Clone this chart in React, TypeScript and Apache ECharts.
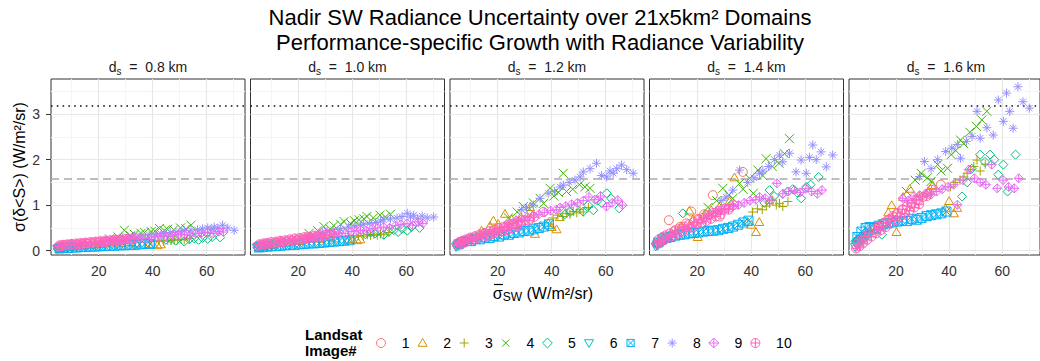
import React, { useEffect, useRef } from 'react';
import * as echarts from 'echarts';

const FONT = '"Liberation Sans", Arial, Helvetica, sans-serif';

const PANEL_LABELS = ['0.8', '1.0', '1.2', '1.4', '1.6'];
const IMAGE_NAMES = ['1', '2', '3', '4', '5', '6', '7', '8', '9', '10'];
const COLORS = ['#F8766D', '#D89000', '#A3A500', '#39B600', '#00BF7D', '#00BFC4', '#00B0F6', '#9590FF', '#E76BF3', '#FF62BC'];
const X_TICKS = [20, 40, 60];
const X_MINOR = [10, 30, 50, 70];
const Y_TICKS = [0, 1, 2, 3];
const Y_MINOR = [0.5, 1.5, 2.5, 3.5];
const DASHED_LEVEL = 1.59;
const DOTTED_LEVEL = 3.18;

// Each image: x (radiance variability) and y per panel (0.8, 1.0, 1.2, 1.4, 1.6 km)
const img1X = [7.2, 9.5, 11.8, 13.6, 15.9, 17.8, 20.3, 22.6, 25.8, 28.3, 32.0, 36.9];
const img1Y = [
  [0.10, 0.12, 0.13, 0.14, 0.15, 0.16, 0.18, 0.19, 0.20, 0.22, 0.24, 0.27],
  [0.12, 0.15, 0.17, 0.19, 0.20, 0.22, 0.24, 0.26, 0.29, 0.30, 0.34, 0.40],
  [0.20, 0.26, 0.30, 0.33, 0.36, 0.40, 0.45, 0.50, 0.58, 0.60, 0.70, 0.85],
  [0.30, 0.67, 0.45, 0.52, 0.60, 0.86, 0.70, 0.80, 1.22, 0.75, 0.95, 1.73],
  [0.25, 0.40, 0.48, 0.55, 0.62, 0.70, 0.80, 0.90, 1.02, 1.10, 1.25, 1.45],
];
const img2X = [10.5, 14.0, 17.1, 18.4, 20.2, 22.7, 25.2, 28.5, 32.0, 33.8, 38.7, 40.0, 41.8, 43.0];
const img2Y = [
  [0.10, 0.12, 0.14, 0.16, 0.15, 0.18, 0.19, 0.18, 0.20, 0.17, 0.15, 0.16, 0.13, 0.15],
  [0.14, 0.18, 0.21, 0.23, 0.22, 0.26, 0.28, 0.27, 0.30, 0.28, 0.25, 0.27, 0.24, 0.26],
  [0.30, 0.45, 0.55, 0.67, 0.60, 0.82, 0.70, 0.75, 0.97, 0.38, 0.62, 0.53, 0.48, 0.75],
  [0.40, 0.55, 0.89, 0.70, 0.31, 0.80, 0.90, 1.00, 1.10, 1.62, 0.64, 0.58, 0.42, 0.64],
  [0.45, 0.60, 0.85, 1.01, 0.42, 1.19, 1.37, 1.20, 1.30, 1.45, 0.94, 1.10, 0.83, 0.95],
];
const img3X = [40.5, 42.3, 44.1, 45.6, 46.8, 48.0, 49.3, 50.5, 51.7, 53.6];
const img3Y = [
  [0.20, 0.22, 0.21, 0.23, 0.22, 0.24, 0.23, 0.25, 0.24, 0.27],
  [0.30, 0.33, 0.32, 0.35, 0.33, 0.36, 0.34, 0.37, 0.35, 0.40],
  [0.72, 0.78, 0.75, 0.82, 0.80, 0.86, 0.83, 0.90, 0.85, 0.95],
  [0.85, 0.92, 0.90, 0.98, 1.04, 1.11, 1.00, 1.04, 0.97, 1.08],
  [1.40, 1.50, 1.55, 1.62, 1.70, 1.78, 1.85, 1.99, 1.75, 1.90],
];
const img4X = [24.0, 27.2, 29.5, 31.8, 33.2, 35.7, 37.0, 39.4, 40.8, 42.5, 44.3, 45.5, 47.8, 50.3, 52.3, 54.2];
const img4Y = [
  [0.26, 0.30, 0.45, 0.33, 0.36, 0.38, 0.40, 0.42, 0.43, 0.49, 0.44, 0.47, 0.46, 0.50, 0.48, 0.56],
  [0.38, 0.44, 0.53, 0.48, 0.55, 0.58, 0.64, 0.60, 0.66, 0.68, 0.70, 0.75, 0.72, 0.78, 0.74, 0.80],
  [0.72, 0.85, 0.97, 0.92, 1.05, 1.15, 1.04, 1.37, 1.20, 1.28, 1.70, 1.30, 1.35, 1.45, 1.40, 1.37],
  [0.95, 1.10, 1.37, 1.22, 1.15, 1.48, 1.35, 1.59, 1.26, 1.77, 1.65, 2.02, 1.85, 1.92, 2.13, 2.46],
  [1.30, 1.55, 1.70, 1.60, 1.52, 1.89, 1.75, 1.81, 2.11, 2.20, 2.43, 2.35, 2.60, 2.73, 2.87, 3.06],
];
const img5X = [4.8, 5.5, 6.5, 8.0, 10.0, 14.7, 44.9, 46.8, 48.5, 51.7, 53.5, 55.4, 57.0, 58.5, 60.4, 62.0, 65.0];
const img5Y = [
  [0.04, 0.06, 0.05, 0.08, 0.09, 0.12, 0.24, 0.26, 0.22, 0.20, 0.25, 0.27, 0.24, 0.28, 0.26, 0.30, 0.29],
  [0.07, 0.09, 0.08, 0.11, 0.13, 0.17, 0.36, 0.40, 0.38, 0.35, 0.42, 0.45, 0.41, 0.48, 0.44, 0.52, 0.50],
  [0.16, 0.14, 0.17, 0.22, 0.26, 0.38, 0.80, 0.85, 0.95, 0.86, 1.00, 0.89, 1.10, 1.05, 1.26, 1.15, 0.93],
  [0.16, 0.20, 0.22, 0.28, 0.35, 0.82, 1.05, 1.33, 1.20, 1.25, 1.30, 1.35, 1.28, 1.15, 1.40, 1.45, 1.62],
  [0.20, 0.25, 0.28, 0.33, 0.40, 0.35, 1.19, 1.50, 1.80, 2.11, 1.95, 2.11, 2.00, 1.67, 1.89, 1.30, 2.11],
];
const img6X = [4.6, 5.0, 5.4, 5.9, 6.3, 6.8, 7.4, 8.1, 9.0, 10.2];
const img6Y = [
  [0.03, 0.05, 0.04, 0.06, 0.05, 0.07, 0.06, 0.07, 0.08, 0.09],
  [0.06, 0.08, 0.07, 0.09, 0.08, 0.10, 0.09, 0.11, 0.12, 0.13],
  [0.07, 0.11, 0.09, 0.14, 0.12, 0.16, 0.14, 0.18, 0.20, 0.23],
  [0.08, 0.13, 0.10, 0.17, 0.14, 0.20, 0.18, 0.22, 0.25, 0.30],
  [0.07, 0.14, 0.10, 0.19, 0.15, 0.22, 0.20, 0.26, 0.30, 0.36],
];
const img7X = [5.5, 7.0, 8.6, 10.1, 11.8, 13.5, 15.2, 17.0, 18.7, 20.5, 22.3, 24.1, 25.9, 27.8, 29.6, 31.5, 33.3, 35.2, 37.1, 39.0];
const img7Y = [
  [0.05, 0.06, 0.06, 0.07, 0.07, 0.08, 0.08, 0.09, 0.09, 0.10, 0.10, 0.11, 0.11, 0.12, 0.12, 0.13, 0.13, 0.14, 0.15, 0.15],
  [0.07, 0.08, 0.09, 0.10, 0.10, 0.11, 0.12, 0.13, 0.13, 0.14, 0.15, 0.16, 0.16, 0.17, 0.18, 0.19, 0.20, 0.21, 0.22, 0.23],
  [0.14, 0.19, 0.22, 0.21, 0.26, 0.25, 0.29, 0.28, 0.32, 0.31, 0.36, 0.35, 0.39, 0.40, 0.43, 0.44, 0.47, 0.50, 0.53, 0.58],
  [0.18, 0.25, 0.28, 0.30, 0.33, 0.35, 0.36, 0.38, 0.39, 0.40, 0.42, 0.43, 0.44, 0.45, 0.48, 0.50, 0.53, 0.57, 0.62, 0.66],
  [0.30, 0.42, 0.50, 0.52, 0.50, 0.55, 0.58, 0.60, 0.62, 0.64, 0.66, 0.65, 0.70, 0.68, 0.72, 0.76, 0.78, 0.80, 0.82, 0.86],
];
const img8X = [28.9, 30.7, 33.2, 35.7, 38.7, 41.0, 43.1, 44.3, 46.5, 48.6, 50.5, 51.7, 54.2, 56.6, 58.5, 60.4, 61.6, 62.8, 64.1, 65.9, 67.8, 70.2];
const img8Y = [
  [0.28, 0.30, 0.32, 0.33, 0.35, 0.36, 0.37, 0.38, 0.40, 0.41, 0.42, 0.44, 0.45, 0.46, 0.48, 0.50, 0.47, 0.52, 0.49, 0.56, 0.50, 0.45],
  [0.40, 0.43, 0.46, 0.48, 0.52, 0.55, 0.56, 0.58, 0.60, 0.62, 0.65, 0.68, 0.70, 0.72, 0.75, 0.82, 0.74, 0.78, 0.70, 0.76, 0.72, 0.74],
  [0.90, 0.95, 1.00, 1.15, 1.26, 1.30, 1.40, 1.44, 1.50, 1.55, 1.62, 1.73, 1.80, 1.92, 1.65, 1.62, 1.75, 1.70, 1.80, 1.88, 1.78, 1.70],
  [1.10, 1.18, 1.33, 1.77, 1.50, 1.60, 1.70, 1.75, 1.85, 2.00, 2.10, 1.95, 2.14, 1.73, 1.99, 1.70, 2.05, 2.32, 2.00, 2.17, 1.84, 2.10],
  [1.63, 1.96, 1.80, 2.00, 2.18, 2.25, 2.33, 2.03, 2.40, 2.51, 3.06, 2.47, 2.70, 2.54, 3.31, 2.84, 3.46, 3.06, 2.69, 3.60, 3.27, 3.13],
];
const img9X = [22.5, 24.6, 26.8, 28.9, 31.0, 33.2, 35.3, 37.4, 39.6, 41.7, 43.1, 45.2, 47.4, 49.5, 51.7, 53.8, 56.0, 58.1, 60.3, 62.4, 64.5, 66.2];
const img9Y = [
  [0.19, 0.22, 0.21, 0.24, 0.25, 0.26, 0.28, 0.27, 0.30, 0.31, 0.32, 0.31, 0.34, 0.35, 0.36, 0.34, 0.38, 0.39, 0.40, 0.38, 0.42, 0.41],
  [0.26, 0.30, 0.29, 0.33, 0.35, 0.36, 0.39, 0.38, 0.42, 0.44, 0.45, 0.44, 0.48, 0.50, 0.52, 0.50, 0.55, 0.58, 0.60, 0.56, 0.63, 0.60],
  [0.52, 0.60, 0.67, 0.70, 0.74, 0.78, 0.80, 0.84, 0.88, 0.90, 0.95, 0.98, 1.02, 1.05, 1.10, 1.18, 1.12, 1.20, 0.97, 1.05, 1.11, 1.00],
  [0.70, 0.78, 0.85, 0.90, 0.93, 0.97, 1.00, 1.05, 1.10, 1.12, 1.18, 1.15, 1.11, 1.48, 1.25, 1.30, 1.33, 1.28, 1.37, 1.30, 1.25, 1.33],
  [1.15, 1.10, 1.20, 1.22, 1.25, 1.23, 1.30, 1.35, 1.40, 1.45, 1.01, 1.55, 1.78, 1.59, 1.50, 1.45, 1.89, 1.37, 1.55, 1.40, 1.37, 1.59],
];
const img10X = [5.0, 5.6, 6.3, 7.0, 7.6, 8.4, 9.2, 9.9, 10.8, 11.7, 12.5, 13.4, 14.3, 15.2, 16.1, 17.0, 17.9, 18.8, 19.7, 20.6, 21.5, 22.4, 23.3, 24.2, 25.1, 26.0, 26.9, 27.8, 28.7, 30.1, 31.6, 33.4];
const img10Y = [
  [0.09, 0.12, 0.10, 0.13, 0.12, 0.14, 0.12, 0.15, 0.13, 0.16, 0.14, 0.17, 0.15, 0.18, 0.16, 0.19, 0.17, 0.20, 0.18, 0.21, 0.19, 0.22, 0.20, 0.23, 0.21, 0.24, 0.22, 0.25, 0.23, 0.26, 0.25, 0.28],
  [0.11, 0.14, 0.12, 0.16, 0.14, 0.17, 0.15, 0.19, 0.16, 0.20, 0.18, 0.22, 0.19, 0.23, 0.21, 0.25, 0.22, 0.27, 0.24, 0.28, 0.25, 0.30, 0.27, 0.31, 0.28, 0.33, 0.30, 0.34, 0.31, 0.35, 0.34, 0.38],
  [0.12, 0.18, 0.15, 0.22, 0.18, 0.25, 0.21, 0.29, 0.24, 0.32, 0.27, 0.36, 0.30, 0.39, 0.33, 0.43, 0.36, 0.46, 0.39, 0.50, 0.42, 0.53, 0.45, 0.57, 0.49, 0.60, 0.52, 0.64, 0.56, 0.67, 0.66, 0.74],
  [0.15, 0.24, 0.19, 0.29, 0.23, 0.34, 0.28, 0.38, 0.32, 0.43, 0.37, 0.48, 0.42, 0.53, 0.46, 0.58, 0.51, 0.63, 0.56, 0.68, 0.61, 0.73, 0.65, 0.78, 0.70, 0.83, 0.75, 0.88, 0.80, 0.92, 0.90, 1.00],
  [0.05, 0.16, 0.10, 0.24, 0.16, 0.31, 0.24, 0.38, 0.31, 0.46, 0.38, 0.53, 0.45, 0.61, 0.52, 0.68, 0.60, 0.76, 0.67, 0.83, 0.74, 0.91, 0.81, 0.98, 0.88, 1.05, 0.95, 1.12, 1.02, 1.18, 1.20, 1.34],
];

const IMAGE_X = [img1X, img2X, img3X, img4X, img5X, img6X, img7X, img8X, img9X, img10X];
const IMAGE_Y = [img1Y, img2Y, img3Y, img4Y, img5Y, img6Y, img7Y, img8Y, img9Y, img10Y];

// ggplot shapes 1..10
const SYMBOLS = [
  'M5,0A5,5,0,1,1,-5,0A5,5,0,1,1,5,0Z',
  'M0,-5L5,3.66L-5,3.66Z',
  'M-5,0L5,0M0,-5L0,5',
  'M-4,-4L4,4M-4,4L4,-4',
  'M0,-5.5L5.5,0L0,5.5L-5.5,0Z',
  'M0,5L5,-3.66L-5,-3.66Z',
  'M-4,-4L4,-4L4,4L-4,4ZM-4,-4L4,4M-4,4L4,-4',
  'M-5,0L5,0M0,-5L0,5M-3.5,-3.5L3.5,3.5M-3.5,3.5L3.5,-3.5',
  'M0,-5.5L5.5,0L0,5.5L-5.5,0ZM-5.5,0L5.5,0M0,-5.5L0,5.5',
  'M5,0A5,5,0,1,1,-5,0A5,5,0,1,1,5,0ZM-5,0L5,0M0,-5L0,5',
];

const PANEL_LEFT = [51, 250.5, 450, 649.5, 849];
const PANEL_TOP = 79;
const PANEL_W = 194;
const PANEL_H = 176;
const X_MIN = 2.33;
const X_MAX = 74.2;
const Y_MIN = -0.094;
const Y_MAX = 3.77;

function buildOption() {
  const series: any[] = [];
  PANEL_LEFT.forEach((_, p) => {
    series.push({
      type: 'scatter', xAxisIndex: p, yAxisIndex: p, data: [], silent: true,
      markLine: {
        silent: true, symbol: ['none', 'none'], z: 1, label: { show: false }, emphasis: { disabled: true },
        data: [
          ...X_MINOR.map((v) => ({ xAxis: v, lineStyle: { color: '#F4F4F4', width: 1, type: 'solid' } })),
          ...Y_MINOR.map((v) => ({ yAxis: v, lineStyle: { color: '#F4F4F4', width: 1, type: 'solid' } })),
          ...X_TICKS.map((v) => ({ xAxis: v, lineStyle: { color: '#E8E8E8', width: 1.2, type: 'solid' } })),
          ...Y_TICKS.map((v) => ({ yAxis: v, lineStyle: { color: '#E8E8E8', width: 1.2, type: 'solid' } })),
        ],
      },
    });
    series.push({
      type: 'scatter', xAxisIndex: p, yAxisIndex: p, data: [], silent: true,
      markLine: {
        silent: true, symbol: ['none', 'none'], z: 2, label: { show: false }, emphasis: { disabled: true },
        data: [
          { yAxis: DASHED_LEVEL, lineStyle: { color: '#A9A9A9', width: 1.5, type: [8, 5] } },
          { yAxis: DOTTED_LEVEL, lineStyle: { color: '#111111', width: 1.6, type: [1.6, 4.2] } },
        ],
      },
    });
    IMAGE_NAMES.forEach((name, i) => {
      const xs = IMAGE_X[i];
      const ys = IMAGE_Y[i][p];
      series.push({
        type: 'scatter', name, xAxisIndex: p, yAxisIndex: p, z: 3, silent: true,
        symbol: 'path://' + SYMBOLS[i], symbolSize: 9, symbolKeepAspect: true,
        itemStyle: { color: 'rgba(0,0,0,0)', borderColor: COLORS[i], borderWidth: 1, opacity: 1 },
        data: xs.map((x, k) => [x, ys[k]]),
      });
    });
  });

  const graphic: any[] = [];
  graphic.push({
    type: 'text', x: 540, y: 17, silent: true,
    style: { text: 'Nadir SW Radiance Uncertainty over 21x5km² Domains', fontSize: 22, fontFamily: FONT, fill: '#000', align: 'center', verticalAlign: 'middle', textAlign: 'center', textVerticalAlign: 'middle' },
  });
  graphic.push({
    type: 'text', x: 540, y: 42, silent: true,
    style: { text: 'Performance-specific Growth with Radiance Variability', fontSize: 22, fontFamily: FONT, fill: '#000', align: 'center', verticalAlign: 'middle', textAlign: 'center', textVerticalAlign: 'middle' },
  });
  PANEL_LABELS.forEach((lab, p) => {
    graphic.push({
      type: 'text', x: PANEL_LEFT[p] + PANEL_W / 2, y: 67, silent: true,
      style: {
        text: '{a|d}{b|s}{a|  =  ' + lab + ' km}',
        fontFamily: FONT, fill: '#1A1A1A', align: 'center', verticalAlign: 'middle', textAlign: 'center', textVerticalAlign: 'middle',
        rich: {
          a: { fontSize: 14, lineHeight: 18, fontFamily: FONT, fill: '#1A1A1A' },
          b: { fontSize: 10, lineHeight: 12, verticalAlign: 'bottom', fontFamily: FONT, fill: '#1A1A1A' },
        },
      },
    });
  });
  graphic.push({
    type: 'text', x: 19, y: 167, rotation: Math.PI / 2, silent: true,
    style: { text: 'σ(δ<S>) (W/m²/sr)', fontSize: 16, fontFamily: FONT, fill: '#000', align: 'center', verticalAlign: 'middle', textAlign: 'center', textVerticalAlign: 'middle' },
  });
  graphic.push({
    type: 'text', x: 543, y: 293, silent: true,
    style: {
      text: '{a|σ}{b|SW}{a| (W/m²/sr)}', fontFamily: FONT, fill: '#000', align: 'center', verticalAlign: 'middle', textAlign: 'center', textVerticalAlign: 'middle',
      rich: {
        a: { fontSize: 16, lineHeight: 20, fontFamily: FONT, fill: '#000' },
        b: { fontSize: 12, lineHeight: 14, verticalAlign: 'bottom', fontFamily: FONT, fill: '#000' },
      },
    },
  });
  graphic.push({
    type: 'line', silent: true,
    shape: { x1: 494, y1: 284.5, x2: 503, y2: 284.5 },
    style: { stroke: '#000', lineWidth: 1.2 },
  });
  graphic.push({
    type: 'text', x: 305, y: 342.5, silent: true,
    style: { text: 'Landsat\nImage#', fontSize: 15, fontWeight: 'bold', lineHeight: 16, fontFamily: FONT, fill: '#000', align: 'left', verticalAlign: 'middle', textAlign: 'left', textVerticalAlign: 'middle' },
  });
  IMAGE_NAMES.forEach((name, i) => {
    graphic.push({
      type: 'lsym' + i, x: 381 + i * 41.6, y: 343, scaleX: 0.9, scaleY: 0.9, silent: true,
      style: { fill: 'none', stroke: COLORS[i], lineWidth: 1.1 },
    });
    graphic.push({
      type: 'text', x: 401.7 + i * 41.6, y: 343, silent: true,
      style: { text: name, fontSize: 14, fontFamily: FONT, fill: '#000', align: 'left', verticalAlign: 'middle', textAlign: 'left', textVerticalAlign: 'middle' },
    });
  });

  return {
    animation: false,
    textStyle: { fontFamily: FONT },
    grid: PANEL_LEFT.map((l) => ({
      left: l, top: PANEL_TOP, width: PANEL_W, height: PANEL_H, show: true,
      borderColor: '#333333', borderWidth: 1, backgroundColor: 'transparent', containLabel: false,
    })),
    xAxis: PANEL_LEFT.map((_, p) => ({
      type: 'value', gridIndex: p, min: X_MIN, max: X_MAX,
      axisLine: { show: false }, splitLine: { show: false },
      axisTick: { show: true, length: 5, customValues: X_TICKS, lineStyle: { color: '#333333', width: 1 } },
      axisLabel: { show: true, customValues: X_TICKS, fontSize: 14, color: '#333333', margin: 9, fontFamily: FONT },
    })),
    yAxis: PANEL_LEFT.map((_, p) => ({
      type: 'value', gridIndex: p, min: Y_MIN, max: Y_MAX,
      axisLine: { show: false }, splitLine: { show: false },
      axisTick: { show: p === 0, length: 5, customValues: Y_TICKS, lineStyle: { color: '#333333', width: 1 } },
      axisLabel: { show: p === 0, customValues: Y_TICKS, fontSize: 14, color: '#333333', margin: 11, fontFamily: FONT },
    })),
    series,
    graphic,
  };
}

export default function App() {
  const ref = useRef<HTMLDivElement>(null);
  useEffect(() => {
    SYMBOLS.forEach((d, i) => {
      echarts.graphic.registerShape('lsym' + i, echarts.graphic.extendPath(d, {}));
    });
    const chart = echarts.init(ref.current as HTMLDivElement, null, { renderer: 'svg' });
    chart.setOption(buildOption() as any);
    return () => chart.dispose();
  }, []);
  return <div ref={ref} style={{ position: 'absolute', left: 0, top: 0, width: 1040, height: 361 }} />;
}
